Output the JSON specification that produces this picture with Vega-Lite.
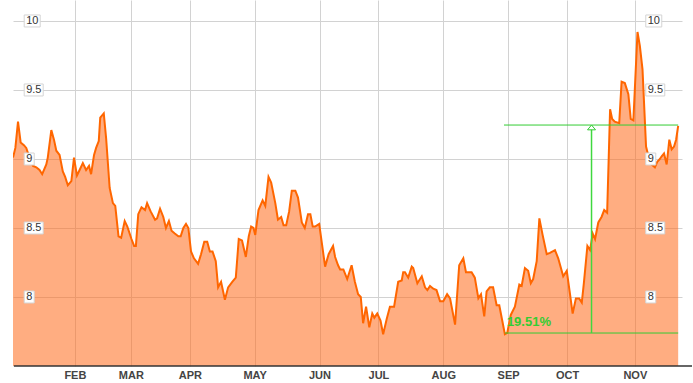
{
  "$schema": "https://vega.github.io/schema/vega-lite/v6.json",
  "width": 669,
  "height": 366,
  "autosize": "none",
  "padding": {"left": 13, "top": 0, "right": 11, "bottom": 17},
  "config": {"view": {"stroke": null}, "font": "Liberation Sans"},
  "datasets": {
    "price": [
      {"t":0,"v":9.01},{"t":0.8,"v":9.08},{"t":1.7,"v":9.27},{"t":2.6,"v":9.12},{"t":3.7,"v":9.10},{"t":4.5,"v":9.08},{"t":5.6,"v":9.01},{"t":6.8,"v":8.95},{"t":7.9,"v":8.94},{"t":9.0,"v":8.92},
      {"t":9.9,"v":8.89},{"t":11.3,"v":8.96},{"t":11.8,"v":9.01},{"t":13.0,"v":9.21},{"t":13.9,"v":9.14},{"t":14.7,"v":9.06},{"t":15.8,"v":9.03},{"t":16.9,"v":8.91},{"t":17.7,"v":8.87},{"t":18.6,"v":8.81},
      {"t":19.8,"v":8.84},{"t":20.7,"v":9.01},{"t":21.7,"v":8.88},{"t":22.6,"v":8.92},{"t":23.7,"v":8.97},{"t":24.8,"v":8.92},{"t":25.8,"v":8.95},{"t":26.5,"v":8.89},{"t":27.5,"v":9.03},{"t":28.2,"v":9.08},
      {"t":29.1,"v":9.13},{"t":29.6,"v":9.30},{"t":30.8,"v":9.33},{"t":31.6,"v":9.15},{"t":32.8,"v":8.79},{"t":33.9,"v":8.68},{"t":34.7,"v":8.66},{"t":35.8,"v":8.44},{"t":36.7,"v":8.43},{"t":37.9,"v":8.55},
      {"t":38.8,"v":8.51},{"t":40.2,"v":8.42},{"t":41.1,"v":8.37},{"t":41.7,"v":8.37},{"t":42.5,"v":8.60},{"t":43.6,"v":8.65},{"t":44.8,"v":8.63},{"t":45.5,"v":8.68},{"t":46.7,"v":8.62},{"t":48.2,"v":8.56},
      {"t":48.9,"v":8.57},{"t":49.9,"v":8.64},{"t":51.0,"v":8.58},{"t":51.9,"v":8.50},{"t":52.9,"v":8.55},{"t":53.8,"v":8.48},{"t":54.9,"v":8.46},{"t":56.1,"v":8.44},{"t":56.9,"v":8.44},{"t":57.8,"v":8.50},
      {"t":58.7,"v":8.53},{"t":59.5,"v":8.50},{"t":60.4,"v":8.33},{"t":61.4,"v":8.28},{"t":62.8,"v":8.24},{"t":63.8,"v":8.31},{"t":64.9,"v":8.40},{"t":65.9,"v":8.40},{"t":66.8,"v":8.33},{"t":67.7,"v":8.33},
      {"t":68.8,"v":8.26},{"t":69.6,"v":8.07},{"t":70.6,"v":8.11},{"t":71.9,"v":7.98},{"t":73.0,"v":8.07},{"t":74.4,"v":8.11},{"t":75.6,"v":8.14},{"t":76.6,"v":8.42},{"t":77.7,"v":8.41},{"t":79.0,"v":8.29},
      {"t":80.0,"v":8.44},{"t":80.8,"v":8.51},{"t":81.6,"v":8.50},{"t":82.2,"v":8.45},{"t":83.3,"v":8.63},{"t":84.7,"v":8.70},{"t":85.6,"v":8.66},{"t":86.7,"v":8.87},{"t":87.6,"v":8.83},{"t":89.0,"v":8.68},
      {"t":89.9,"v":8.56},{"t":91.0,"v":8.58},{"t":91.8,"v":8.52},{"t":92.7,"v":8.52},{"t":93.7,"v":8.62},{"t":94.6,"v":8.77},{"t":95.8,"v":8.77},{"t":96.7,"v":8.72},{"t":98.0,"v":8.54},{"t":99.0,"v":8.50},
      {"t":100.1,"v":8.60},{"t":100.9,"v":8.60},{"t":101.7,"v":8.51},{"t":102.5,"v":8.51},{"t":103.9,"v":8.53},{"t":104.8,"v":8.39},{"t":105.9,"v":8.22},{"t":107.1,"v":8.31},{"t":108.6,"v":8.37},{"t":109.3,"v":8.29},
      {"t":110.3,"v":8.23},{"t":111.0,"v":8.20},{"t":112.1,"v":8.20},{"t":113.4,"v":8.13},{"t":114.9,"v":8.23},{"t":116.0,"v":8.11},{"t":117.1,"v":8.02},{"t":118.0,"v":8.00},{"t":118.8,"v":7.81},{"t":119.8,"v":7.93},
      {"t":120.9,"v":7.78},{"t":121.9,"v":7.88},{"t":122.6,"v":7.85},{"t":123.6,"v":7.88},{"t":124.7,"v":7.83},{"t":125.6,"v":7.73},{"t":126.8,"v":7.84},{"t":127.9,"v":7.93},{"t":129.3,"v":7.93},{"t":130.7,"v":8.11},
      {"t":131.9,"v":8.12},{"t":132.4,"v":8.18},{"t":133.0,"v":8.18},{"t":134.1,"v":8.14},{"t":135.3,"v":8.22},{"t":135.8,"v":8.21},{"t":137.2,"v":8.10},{"t":138.7,"v":8.15},{"t":139.8,"v":8.07},{"t":140.6,"v":8.05},
      {"t":141.5,"v":8.08},{"t":142.6,"v":8.06},{"t":143.7,"v":8.05},{"t":144.9,"v":7.97},{"t":146.0,"v":7.97},{"t":147.3,"v":8.02},{"t":148.3,"v":7.99},{"t":150.0,"v":7.80},{"t":151.4,"v":8.23},{"t":152.8,"v":8.28},
      {"t":153.7,"v":8.18},{"t":155.6,"v":8.18},{"t":156.7,"v":8.14},{"t":157.9,"v":7.99},{"t":158.8,"v":8.02},{"t":159.9,"v":7.86},{"t":160.7,"v":8.04},{"t":161.8,"v":8.07},{"t":162.9,"v":8.07},{"t":164.1,"v":7.94},
      {"t":165.0,"v":7.94},{"t":166.0,"v":7.83},{"t":166.9,"v":7.73},{"t":167.7,"v":7.74},{"t":168.9,"v":7.87},{"t":170.3,"v":7.93},{"t":171.8,"v":8.09},{"t":172.6,"v":8.08},{"t":173.7,"v":8.21},{"t":174.8,"v":8.19},
      {"t":175.7,"v":8.10},{"t":176.5,"v":8.13},{"t":177.7,"v":8.26},{"t":178.6,"v":8.57},{"t":179.7,"v":8.45},{"t":181.1,"v":8.31},{"t":182.2,"v":8.32},{"t":183.9,"v":8.34},{"t":185.0,"v":8.28},{"t":186.7,"v":8.15},
      {"t":187.9,"v":8.19},{"t":189.0,"v":8.02},{"t":189.9,"v":7.88},{"t":191.0,"v":7.99},{"t":192.1,"v":7.99},{"t":193.0,"v":7.96},{"t":193.7,"v":8.10},{"t":194.9,"v":8.37},{"t":195.8,"v":8.34},{"t":196.7,"v":8.46},
      {"t":197.5,"v":8.42},{"t":198.6,"v":8.54},{"t":199.7,"v":8.58},{"t":200.6,"v":8.63},{"t":201.6,"v":8.61},{"t":202.6,"v":9.36},{"t":203.3,"v":9.29},{"t":204.2,"v":9.27},{"t":205.7,"v":9.26},{"t":206.5,"v":9.56},
      {"t":207.6,"v":9.55},{"t":208.8,"v":9.47},{"t":209.6,"v":9.29},{"t":210.5,"v":9.28},{"t":211.9,"v":9.92},{"t":212.7,"v":9.82},{"t":213.6,"v":9.65},{"t":214.8,"v":9.09},{"t":216.2,"v":8.97},{"t":217.8,"v":8.94},
      {"t":218.6,"v":8.98},{"t":219.5,"v":9.00},{"t":220.1,"v":9.02},{"t":220.9,"v":9.04},{"t":221.8,"v":8.96},{"t":222.7,"v":9.14},{"t":223.5,"v":9.07},{"t":224.3,"v":9.09},{"t":225.0,"v":9.14},{"t":225.7,"v":9.24}
    ],
    "levels": [
      {"t0": 166.6, "t1": 225.7, "v": 9.246},
      {"t0": 166.9, "t1": 225.7, "v": 7.739}
    ],
    "move": [
      {"start": 166.9, "end": 196.3, "lo": 7.739, "hi": 9.246, "label": "19.51%"}
    ],
    "ticks": [
      {"v": 8, "t": "8"}, {"v": 8.5, "t": "8.5"}, {"v": 9, "t": "9"}, {"v": 9.5, "t": "9.5"}, {"v": 10, "t": "10"}
    ]
  },
  "layer": [
    {
      "data": {"name": "price"},
      "mark": {"type": "area", "color": "#ff6a1a", "opacity": 0.55, "clip": true},
      "encoding": {
        "x": {"field": "t", "type": "quantitative", "title": null,
              "scale": {"domain": [0, 227], "nice": false, "zero": false},
              "axis": {"values": [21, 40, 60, 82, 104, 124, 146, 168, 188, 211],
                       "labelExpr": "['FEB','MAR','APR','MAY','JUN','JUL','AUG','SEP','OCT','NOV'][indexof([21,40,60,82,104,124,146,168,188,211], datum.value)]",
                       "grid": true, "gridColor": "#d2d2d2", "domain": false, "ticks": false,
                       "labelFont": "Liberation Sans", "labelFontSize": 11, "labelFontWeight": "bold",
                       "labelColor": "#444", "labelPadding": 3, "labelOverlap": false, "labelFlush": false}},
        "y": {"field": "v", "type": "quantitative", "title": null,
              "scale": {"domain": [7.5, 10.152], "nice": false, "zero": false},
              "axis": {"values": [8, 8.5, 9, 9.5, 10], "labels": false, "ticks": false, "domain": false,
                       "grid": true, "gridColor": "#d2d2d2"}}
      }
    },
    {
      "data": {"name": "price"},
      "mark": {"type": "line", "color": "#ff6600", "strokeWidth": 2, "clip": true},
      "encoding": {
        "x": {"field": "t", "type": "quantitative", "title": null},
        "y": {"field": "v", "type": "quantitative", "title": null}
      }
    },
    {
      "data": {"name": "levels"},
      "mark": {"type": "rule", "color": "#33cc33", "stroke": "#33cc33", "strokeWidth": 1},
      "encoding": {
        "x": {"field": "t0", "type": "quantitative", "title": null},
        "x2": {"field": "t1"},
        "y": {"field": "v", "type": "quantitative", "title": null}
      }
    },
    {
      "data": {"name": "move"},
      "mark": {"type": "rule", "color": "#3fd83f", "stroke": "#3fd83f", "strokeWidth": 1.5},
      "encoding": {
        "x": {"field": "end", "type": "quantitative", "title": null},
        "y": {"field": "lo", "type": "quantitative", "title": null},
        "y2": {"field": "hi"}
      }
    },
    {
      "data": {"name": "move"},
      "mark": {"type": "point", "shape": "M0,0L-1,1.2L1,1.2Z", "size": 64, "filled": true, "fill": "#ffffff", "stroke": "#33cc33", "strokeWidth": 1, "opacity": 1},
      "encoding": {
        "x": {"field": "end", "type": "quantitative", "title": null},
        "y": {"field": "hi", "type": "quantitative", "title": null}
      }
    },
    {
      "data": {"name": "move"},
      "mark": {"type": "text", "align": "left", "baseline": "alphabetic", "dx": 2, "dy": -7, "fontSize": 13, "fontWeight": "bold", "color": "#33cc33", "font": "Liberation Sans"},
      "encoding": {
        "x": {"field": "start", "type": "quantitative", "title": null},
        "y": {"field": "lo", "type": "quantitative", "title": null},
        "text": {"field": "label"}
      }
    },
    {
      "data": {"name": "ticks"},
      "mark": {"type": "point", "size": 4, "filled": true, "fill": "#ffffff", "stroke": "#d4d4d4", "strokeWidth": 1, "opacity": 1},
      "encoding": {
        "x": {"datum": 3.8, "type": "quantitative", "title": null},
        "y": {"field": "v", "type": "quantitative", "title": null},
        "shape": {"field": "t", "type": "nominal", "legend": null,
                  "scale": {"domain": ["8", "8.5", "9", "9.5", "10"],
                            "range": ["M0,-6H10V6H0Z", "M0,-6H19V6H0Z", "M0,-6H10V6H0Z", "M0,-6H19V6H0Z", "M0,-6H16V6H0Z"]}}
      }
    },
    {
      "data": {"name": "ticks"},
      "mark": {"type": "point", "size": 4, "filled": true, "fill": "#ffffff", "stroke": "#d4d4d4", "strokeWidth": 1, "opacity": 1},
      "encoding": {
        "x": {"datum": 214.7, "type": "quantitative", "title": null},
        "y": {"field": "v", "type": "quantitative", "title": null},
        "shape": {"field": "t", "type": "nominal", "legend": null}
      }
    },
    {
      "data": {"name": "ticks"},
      "mark": {"type": "text", "align": "left", "baseline": "middle", "dx": 2, "fontSize": 11, "color": "#333", "font": "Liberation Sans"},
      "encoding": {
        "x": {"datum": 3.8, "type": "quantitative", "title": null},
        "y": {"field": "v", "type": "quantitative", "title": null},
        "text": {"field": "t"}
      }
    },
    {
      "data": {"name": "ticks"},
      "mark": {"type": "text", "align": "left", "baseline": "middle", "dx": 2, "fontSize": 11, "color": "#333", "font": "Liberation Sans"},
      "encoding": {
        "x": {"datum": 214.7, "type": "quantitative", "title": null},
        "y": {"field": "v", "type": "quantitative", "title": null},
        "text": {"field": "t"}
      }
    },
    {
      "data": {"values": [{}]},
      "mark": {"type": "rule", "color": "#333", "strokeWidth": 1.5, "clip": false},
      "encoding": {
        "x": {"datum": 0.3, "type": "quantitative", "title": null},
        "x2": {"datum": 230.4},
        "y": {"datum": 7.5, "type": "quantitative", "title": null}
      }
    }
  ]
}
